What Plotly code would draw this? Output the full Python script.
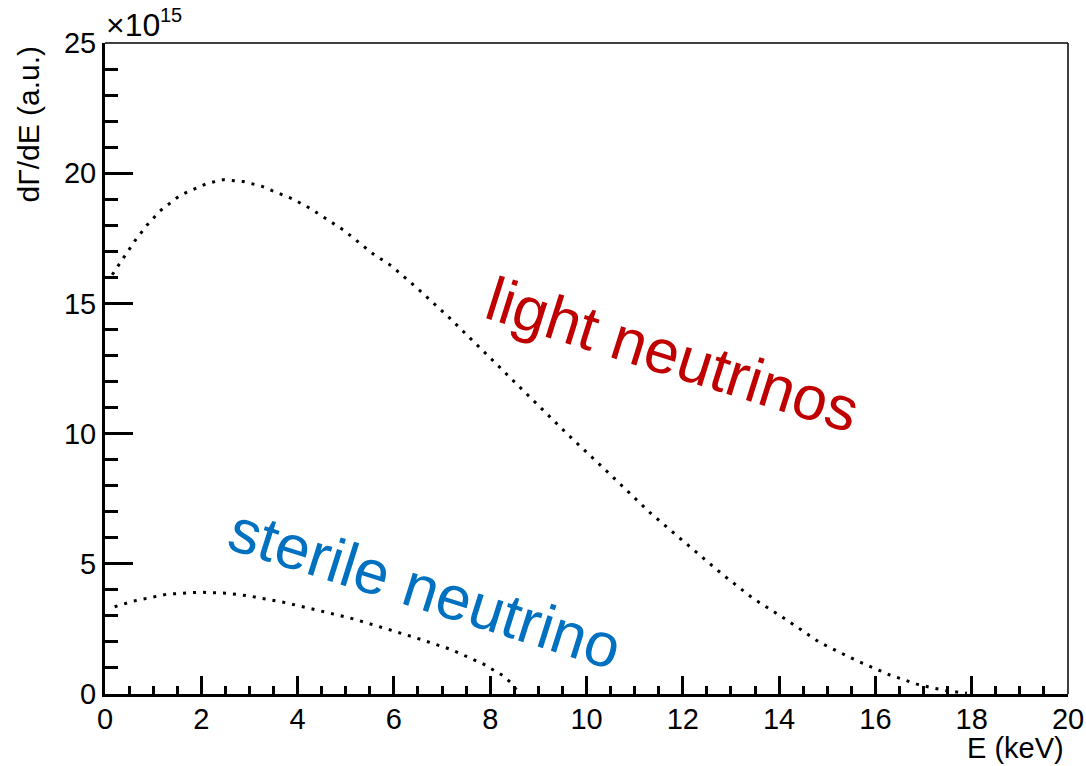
import plotly.graph_objects as go

# ---- data (y in units of 1e15) ----
E_light = [0.15, 0.30, 0.42, 0.62, 0.87, 1.14, 1.56, 2.11, 2.46, 2.87, 3.25, 3.91, 4.26,
           4.95, 5.57, 5.95, 6.54, 7.13, 7.96, 8.79, 9.62, 10.47, 11.32, 11.94, 12.84,
           13.46, 14.16, 14.85, 15.58, 16.30, 16.86, 17.20, 17.50, 17.90]
y_light = [16.1, 16.5, 16.85, 17.4, 18.0, 18.55, 19.15, 19.6, 19.75, 19.68, 19.5, 19.0, 18.65,
           17.82, 16.9, 16.44, 15.49, 14.49, 12.98, 11.46, 9.95, 8.47, 6.96, 5.98, 4.57,
           3.67, 2.84, 1.97, 1.31, 0.73, 0.38, 0.23, 0.12, 0.03]

E_sterile = [0.20, 0.59, 1.28, 1.97, 2.53, 3.01, 3.77, 4.47, 5.09, 5.78, 6.47, 7.17, 7.86,
             8.27, 8.45, 8.55]
y_sterile = [3.35, 3.57, 3.83, 3.91, 3.87, 3.76, 3.50, 3.20, 2.92, 2.54, 2.15, 1.72, 1.15,
             0.70, 0.40, 0.15]

x_ticks = [0, 2, 4, 6, 8, 10, 12, 14, 16, 18, 20]
y_ticks = [0, 5, 10, 15, 20, 25]

FONT = "Liberation Sans, Arial, sans-serif"

fig = go.Figure()
for xs, ys in [(E_light, y_light), (E_sterile, y_sterile)]:
    fig.add_trace(go.Scatter(x=xs, y=ys, mode="lines",
                             line=dict(color="black", width=3, dash="3px,7px"),
                             showlegend=False, hoverinfo="skip"))

W, H = 1086, 766
L, R, T, B = 105, 18, 43, 72
pw, ph = W - L - R, H - T - B

def px_x(p):
    return (p - L) / pw

def px_y(p):
    return (H - B - p) / ph

fig.update_layout(
    width=W, height=H,
    margin=dict(l=L, r=R, t=T, b=B),
    plot_bgcolor="white", paper_bgcolor="white",
    font=dict(family=FONT, size=29, color="black"),
    xaxis=dict(range=[0, 20], tickvals=x_ticks, ticktext=[str(v) for v in x_ticks],
               ticks="inside", ticklen=18, tickwidth=2.5, tickcolor="black",
               minor=dict(dtick=0.5, ticks="inside", ticklen=8, tickwidth=2.5, tickcolor="black"),
               showline=True, linewidth=3, linecolor="black", showgrid=False, zeroline=False,
               tickfont=dict(family=FONT, size=29), automargin=False,
               ticklabelstandoff=-3),
    yaxis=dict(range=[0, 25], tickvals=y_ticks, ticktext=[str(v) for v in y_ticks],
               ticks="inside", ticklen=28, tickwidth=2.5, tickcolor="black",
               minor=dict(dtick=1, ticks="inside", ticklen=13, tickwidth=2.5, tickcolor="black"),
               showline=True, linewidth=3, linecolor="black", showgrid=False, zeroline=False,
               tickfont=dict(family=FONT, size=29), automargin=False),
    shapes=[
        dict(type="line", xref="paper", yref="paper", x0=0, x1=1, y0=1, y1=1,
             line=dict(color="black", width=1.5)),
        dict(type="line", xref="paper", yref="paper", x0=1, x1=1, y0=0, y1=1,
             line=dict(color="black", width=1.5)),
    ],
    annotations=[
        dict(text="×10", xref="paper", yref="paper", x=px_x(104), y=px_y(45),
             xanchor="left", yanchor="bottom", showarrow=False,
             font=dict(family=FONT, size=32)),
        dict(text="15", xref="paper", yref="paper", x=px_x(158), y=px_y(28),
             xanchor="left", yanchor="bottom", showarrow=False,
             font=dict(family=FONT, size=20)),
        dict(text="dΓ/dE (a.u.)", xref="paper", yref="paper", x=px_x(28), y=px_y(44),
             xanchor="center", yanchor="top", textangle=-90, showarrow=False,
             font=dict(family=FONT, size=30)),
        dict(text="E (keV)", xref="paper", yref="paper", x=px_x(1066), y=px_y(748),
             xanchor="right", yanchor="middle", showarrow=False,
             font=dict(family=FONT, size=29)),
        dict(text="light neutrinos", xref="paper", yref="paper", x=px_x(673), y=px_y(354),
             xanchor="center", yanchor="middle", textangle=17.5, showarrow=False,
             font=dict(family=FONT, size=62, color="#C00000")),
        dict(text="sterile neutrino", xref="paper", yref="paper", x=px_x(425), y=px_y(588),
             xanchor="center", yanchor="middle", textangle=17.5, showarrow=False,
             font=dict(family=FONT, size=62, color="#0070C0")),
    ],
)

fig.write_html("out.html")
